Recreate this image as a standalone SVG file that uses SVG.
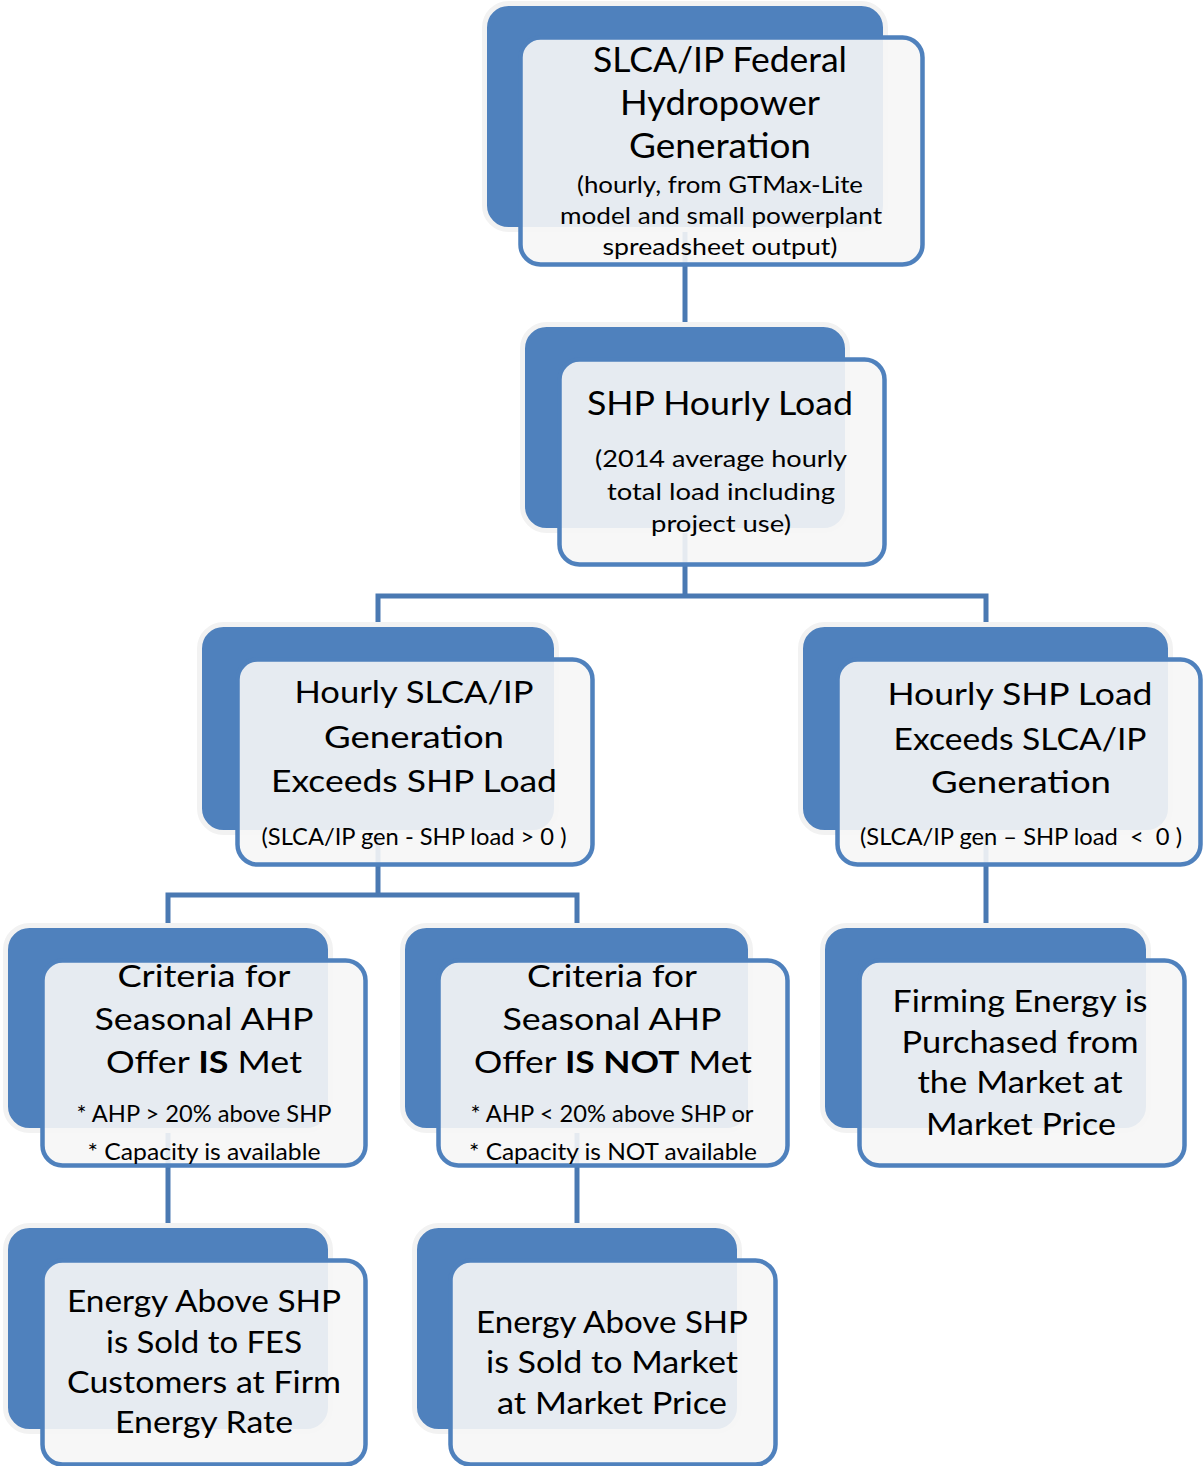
<svg xmlns="http://www.w3.org/2000/svg" width="1204" height="1466" viewBox="0 0 1204 1466">
<style>
.back{fill:#4F81BD;stroke:#F2F2F2;stroke-width:5}
.front{fill:#F6F6F6;fill-opacity:0.9;stroke:#4F81BD;stroke-width:4.5}
.conn{fill:none;stroke:#4A79B2;stroke-width:5}
text{font-family:Lato,"Open Sans","Liberation Sans",sans-serif;text-anchor:middle;fill:#000}
.b35{font-size:35px}.b33{font-size:33px}.b31{font-size:31px}.s23{font-size:23.5px}.s22{font-size:23px}.s21{font-size:22.5px}
.bold{font-weight:bold}
</style>
<rect width="1204" height="1466" fill="#FFFFFF"/>
<g id="connectors">
<path class="conn" d="M685,227 V327"/>
<path class="conn" d="M685,528 V596"/>
<path class="conn" d="M378,628 V596 H986 V628"/>
<path class="conn" d="M378,830 V895"/>
<path class="conn" d="M168,928 V895 H577 V928"/>
<path class="conn" d="M986,830 V928"/>
<path class="conn" d="M168,1128 V1228"/>
<path class="conn" d="M577,1128 V1228"/>
</g>
<g id="n1">
<rect class="back" x="484.5" y="3.5" width="401" height="226" rx="24"/>
<rect class="front" x="520.5" y="37.5" width="402" height="227" rx="20"/>
<text class="b35" x="720" y="72" textLength="254" lengthAdjust="spacingAndGlyphs">SLCA/IP Federal</text>
<text class="b35" x="720" y="115" textLength="200" lengthAdjust="spacingAndGlyphs">Hydropower</text>
<text class="b35" x="720" y="158" textLength="182" lengthAdjust="spacingAndGlyphs">Generation</text>
<text class="s23" x="720" y="193" textLength="286" lengthAdjust="spacingAndGlyphs">(hourly, from GTMax-Lite</text>
<text class="s23" x="721" y="224" textLength="322" lengthAdjust="spacingAndGlyphs">model and small powerplant</text>
<text class="s23" x="720" y="255" textLength="235" lengthAdjust="spacingAndGlyphs">spreadsheet output)</text>
</g>
<g id="n2">
<rect class="back" x="522.5" y="324.5" width="325" height="206" rx="24"/>
<rect class="front" x="559.5" y="359.5" width="325" height="205" rx="20"/>
<text class="b33" x="720" y="415" textLength="266" lengthAdjust="spacingAndGlyphs">SHP Hourly Load</text>
<text class="s23" x="721" y="467" textLength="252" lengthAdjust="spacingAndGlyphs">(2014 average hourly</text>
<text class="s23" x="721" y="500" textLength="228" lengthAdjust="spacingAndGlyphs">total load including</text>
<text class="s23" x="721" y="532" textLength="140" lengthAdjust="spacingAndGlyphs">project use)</text>
</g>
<g id="n3">
<rect class="back" x="199.5" y="624.5" width="357" height="208" rx="24"/>
<rect class="front" x="237.5" y="659.5" width="355" height="205" rx="20"/>
<text class="b31" x="414" y="703" textLength="239" lengthAdjust="spacingAndGlyphs">Hourly SLCA/IP</text>
<text class="b31" x="414" y="748" textLength="180" lengthAdjust="spacingAndGlyphs">Generation</text>
<text class="b31" x="414" y="792" textLength="286" lengthAdjust="spacingAndGlyphs">Exceeds SHP Load</text>
<text class="s22" x="414" y="845" textLength="305" lengthAdjust="spacingAndGlyphs">(SLCA/IP gen - SHP load &gt; 0 )</text>
</g>
<g id="n4">
<rect class="back" x="800.5" y="624.5" width="370" height="208" rx="24"/>
<rect class="front" x="837.5" y="659.5" width="363" height="205" rx="20"/>
<text class="b31" x="1020" y="705" textLength="265" lengthAdjust="spacingAndGlyphs">Hourly SHP Load</text>
<text class="b31" x="1020" y="750" textLength="253" lengthAdjust="spacingAndGlyphs">Exceeds SLCA/IP</text>
<text class="b31" x="1021" y="793" textLength="180" lengthAdjust="spacingAndGlyphs">Generation</text>
<text class="s22" x="1021" y="845" textLength="322" lengthAdjust="spacingAndGlyphs" xml:space="preserve">(SLCA/IP gen – SHP load  &lt;  0 )</text>
</g>
<g id="n5">
<rect class="back" x="5.5" y="925.5" width="325" height="205" rx="24"/>
<rect class="front" x="42.5" y="960.5" width="323" height="205" rx="20"/>
<text class="b31" x="204" y="987" textLength="173" lengthAdjust="spacingAndGlyphs">Criteria for</text>
<text class="b31" x="204" y="1030" textLength="219" lengthAdjust="spacingAndGlyphs">Seasonal AHP</text>
<text class="b31" x="204" y="1073" textLength="196" lengthAdjust="spacingAndGlyphs">Offer <tspan class="bold">IS</tspan> Met</text>
<text class="s21" x="204" y="1122" textLength="255" lengthAdjust="spacingAndGlyphs">* AHP &gt; 20% above SHP</text>
<text class="s21" x="204" y="1160" textLength="233" lengthAdjust="spacingAndGlyphs">* Capacity is available</text>
</g>
<g id="n6">
<rect class="back" x="402.5" y="925.5" width="348" height="205" rx="24"/>
<rect class="front" x="438.5" y="960.5" width="349" height="205" rx="20"/>
<text class="b31" x="612" y="987" textLength="170" lengthAdjust="spacingAndGlyphs">Criteria for</text>
<text class="b31" x="612" y="1030" textLength="219" lengthAdjust="spacingAndGlyphs">Seasonal AHP</text>
<text class="b31" x="613" y="1073" textLength="278" lengthAdjust="spacingAndGlyphs">Offer <tspan class="bold">IS NOT</tspan> Met</text>
<text class="s21" x="612" y="1122" textLength="283" lengthAdjust="spacingAndGlyphs">* AHP &lt; 20% above SHP or</text>
<text class="s21" x="613" y="1160" textLength="288" lengthAdjust="spacingAndGlyphs">* Capacity is NOT available</text>
</g>
<g id="n7">
<rect class="back" x="822.5" y="925.5" width="326" height="205" rx="24"/>
<rect class="front" x="859.5" y="960.5" width="325" height="205" rx="20"/>
<text class="b31" x="1020" y="1012" textLength="255" lengthAdjust="spacingAndGlyphs">Firming Energy is</text>
<text class="b31" x="1020" y="1053" textLength="237" lengthAdjust="spacingAndGlyphs">Purchased from</text>
<text class="b31" x="1020" y="1093" textLength="205" lengthAdjust="spacingAndGlyphs">the Market at</text>
<text class="b31" x="1021" y="1135" textLength="190" lengthAdjust="spacingAndGlyphs">Market Price</text>
</g>
<g id="n8">
<rect class="back" x="5.5" y="1225.5" width="325" height="206" rx="24"/>
<rect class="front" x="42.5" y="1260.5" width="323" height="204" rx="20"/>
<text class="b31" x="204" y="1312" textLength="274" lengthAdjust="spacingAndGlyphs">Energy Above SHP</text>
<text class="b31" x="204" y="1353" textLength="196" lengthAdjust="spacingAndGlyphs">is Sold to FES</text>
<text class="b31" x="204" y="1393" textLength="274" lengthAdjust="spacingAndGlyphs">Customers at Firm</text>
<text class="b31" x="204" y="1433" textLength="178" lengthAdjust="spacingAndGlyphs">Energy Rate</text>
</g>
<g id="n9">
<rect class="back" x="414.5" y="1225.5" width="325" height="206" rx="24"/>
<rect class="front" x="450.5" y="1260.5" width="325" height="204" rx="20"/>
<text class="b31" x="612" y="1333" textLength="272" lengthAdjust="spacingAndGlyphs">Energy Above SHP</text>
<text class="b31" x="612" y="1373" textLength="252" lengthAdjust="spacingAndGlyphs">is Sold to Market</text>
<text class="b31" x="612" y="1414" textLength="230" lengthAdjust="spacingAndGlyphs">at Market Price</text>
</g>
</svg>
